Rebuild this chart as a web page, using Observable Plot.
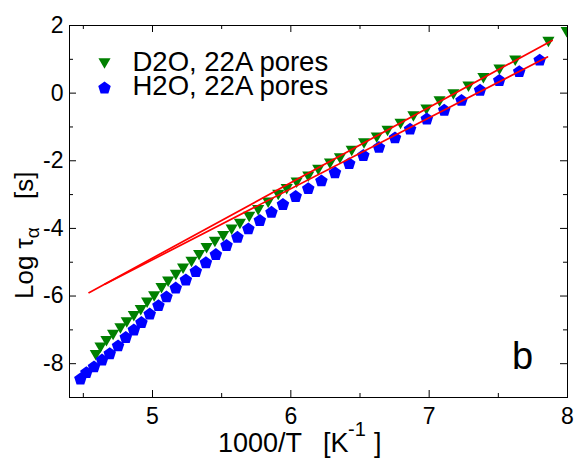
<!DOCTYPE html>
<html><head><meta charset="utf-8">
<script src="https://cdn.jsdelivr.net/npm/d3@7"></script>
<script src="https://cdn.jsdelivr.net/npm/@observablehq/plot@0.6"></script>
<style>body{margin:0;background:#fff} svg{display:block}</style>
</head><body><div id="chart"></div>
<script>
// D2O, 22A pores (green down-triangles)
const d2oX = [4.590,4.624,4.667,4.715,4.768,4.814,4.865,4.915,4.961,5.012,5.065,5.113,5.169,5.221,5.282,5.337,5.391,5.451,5.511,5.572,5.632,5.699,5.764,5.836,5.909,5.970,6.042,6.126,6.198,6.283,6.355,6.440,6.529,6.621,6.699,6.793,6.886,6.980,7.075,7.175,7.284,7.392,7.508,7.622,7.862,7.994];
const d2oY = [-7.75,-7.53,-7.34,-7.15,-6.96,-6.78,-6.60,-6.42,-6.20,-6.01,-5.77,-5.58,-5.38,-5.19,-4.99,-4.79,-4.59,-4.40,-4.23,-4.04,-3.87,-3.66,-3.46,-3.24,-3.01,-2.84,-2.65,-2.47,-2.27,-2.09,-1.93,-1.71,-1.49,-1.32,-1.12,-0.91,-0.69,-0.49,-0.25,-0.04,0.19,0.44,0.69,0.96,1.51,1.80];
// H2O, 22A pores (blue pentagons)
const h2oX = [4.479,4.522,4.577,4.635,4.691,4.751,4.807,4.865,4.920,4.980,5.043,5.101,5.168,5.241,5.313,5.386,5.458,5.535,5.614,5.693,5.776,5.860,5.943,6.035,6.126,6.221,6.319,6.422,6.524,6.637,6.753,6.862,6.983,7.109,7.234,7.368,7.507,7.651,7.799];
const h2oY = [-8.44,-8.25,-8.08,-7.88,-7.69,-7.46,-7.21,-6.99,-6.77,-6.52,-6.27,-6.01,-5.75,-5.51,-5.26,-5.00,-4.76,-4.49,-4.25,-4.00,-3.75,-3.51,-3.28,-3.04,-2.81,-2.58,-2.34,-2.07,-1.83,-1.59,-1.31,-1.05,-0.75,-0.49,-0.20,0.10,0.39,0.65,0.99];
// Arrhenius fit lines (red)
const fitD2OX = [4.541, 7.889];
const fitD2OY = [-5.90, 1.56];
const fitH2OX = [4.655, 7.855];
const fitH2OY = [-5.65, 1.07];
// axes
const xTicks = [5, 6, 7, 8];
const xMinor = [4.5, 5.5, 6.5, 7.5];
const yTicks = [-8, -6, -4, -2, 0, 2];
const yMinor = [-7, -5, -3, -1, 1];
const seriesNames = ["D2O, 22A pores", "H2O, 22A pores"];

const d2o = d2oX.map((x, i) => ({x, y: d2oY[i]}));
const h2o = h2oX.map((x, i) => ({x, y: h2oY[i]}));
const fitD2O = fitD2OX.map((x, i) => ({x, y: fitD2OY[i]}));
const fitH2O = fitH2OX.map((x, i) => ({x, y: fitH2OY[i]}));

const GREEN = "#008000", BLUE = "#0000ff", RED = "#ff0000";
const triDown = {draw(ctx, size) {
  const R = Math.sqrt(size / Math.PI), o = -0.25 * R;
  ctx.moveTo(-R * 0.866, -R * 0.5 + o); ctx.lineTo(R * 0.866, -R * 0.5 + o); ctx.lineTo(0, R + o); ctx.closePath();
}};
const pentagon = {draw(ctx, size) {
  const R = Math.sqrt(size / Math.PI);
  for (let k = 0; k < 5; k++) {
    const a = (-90 + 72 * k) * Math.PI / 180;
    const px = R * Math.cos(a), py = R * Math.sin(a) + 0.09 * R;
    k ? ctx.lineTo(px, py) : ctx.moveTo(px, py);
  }
  ctx.closePath();
}};

const W = 577, H = 461, mL = 69, mR = 10, mT = 25, mB = 64;
const pw = W - mL - mR, ph = H - mT - mB;
const fmt = d => String(d);
const FONT = "'Liberation Sans', Arial, sans-serif";

const chart = Plot.plot({
  width: W, height: H,
  marginLeft: mL, marginRight: mR, marginTop: mT, marginBottom: mB,
  style: {fontFamily: FONT, fontSize: "23px", background: "#fff", color: "black", overflow: "visible"},
  x: {domain: [4.4, 8], label: null},
  y: {domain: [-9, 2], label: null},
  marks: [
    Plot.dot(d2o, {x: "x", y: "y", symbol: triDown, r: 7, fill: GREEN, stroke: "none", clip: true}),
    Plot.dot(h2o, {x: "x", y: "y", symbol: pentagon, r: 6.6, fill: BLUE, stroke: "none", clip: true}),
    Plot.line(fitD2O, {x: "x", y: "y", stroke: RED, strokeWidth: 1.7}),
    Plot.line(fitH2O, {x: "x", y: "y", stroke: RED, strokeWidth: 1.7}),
    // inward ticks on all four sides
    Plot.tickX(xTicks, {x: d => d, insetTop: ph - 7, stroke: "black"}),
    Plot.tickX(xMinor, {x: d => d, insetTop: ph - 4, stroke: "black"}),
    Plot.tickX(xTicks, {x: d => d, insetBottom: ph - 7, stroke: "black"}),
    Plot.tickX(xMinor, {x: d => d, insetBottom: ph - 4, stroke: "black"}),
    Plot.tickY(yTicks, {y: d => d, insetRight: pw - 7, stroke: "black"}),
    Plot.tickY(yMinor, {y: d => d, insetRight: pw - 4, stroke: "black"}),
    Plot.tickY(yTicks, {y: d => d, insetLeft: pw - 7, stroke: "black"}),
    Plot.tickY(yMinor, {y: d => d, insetLeft: pw - 4, stroke: "black"}),
    Plot.axisX({anchor: "bottom", ticks: xTicks, tickSize: 0, tickPadding: 10, tickFormat: fmt, label: null, fontSize: 23}),
    Plot.axisY({anchor: "left", ticks: yTicks, tickSize: 0, tickPadding: 6, tickFormat: fmt, label: null, fontSize: 23}),
    Plot.frame({stroke: "black", strokeWidth: 1}),
    // legend
    Plot.dot([seriesNames[0]], {frameAnchor: "top-left", dx: 35, dy: 38, symbol: triDown, r: 7, fill: GREEN}),
    Plot.dot([seriesNames[1]], {frameAnchor: "top-left", dx: 35, dy: 62, symbol: pentagon, r: 6.6, fill: BLUE}),
    Plot.text([seriesNames[0]], {text: d => d, frameAnchor: "top-left", dx: 63, dy: 37, textAnchor: "start", lineAnchor: "middle", fontSize: 27.5, fill: "black"}),
    Plot.text([seriesNames[1]], {text: d => d, frameAnchor: "top-left", dx: 63, dy: 61, textAnchor: "start", lineAnchor: "middle", fontSize: 27.5, fill: "black"}),
    Plot.text(["b"], {text: d => d, frameAnchor: "bottom-right", dx: -45, dy: -41, textAnchor: "middle", lineAnchor: "middle", fontSize: 38, fill: "black"})
  ]
});
document.getElementById("chart").appendChild(chart);

const svg = d3.select(chart);
// x axis title
const xt = svg.append("text").attr("font-size", 27).attr("fill", "black")
  .attr("text-anchor", "start").attr("font-family", FONT);
xt.append("tspan").attr("x", 218).attr("y", 451.5).text("1000/T");
xt.append("tspan").attr("x", 323).attr("y", 451.5).text("[K");
xt.append("tspan").attr("x", 348).attr("y", 436).attr("font-size", 20).text("-1");
xt.append("tspan").attr("x", 374).attr("y", 451.5).text("]");
// y axis title
const yt = svg.append("text").attr("font-size", 26).attr("fill", "black")
  .attr("text-anchor", "start").attr("font-family", FONT)
  .attr("transform", "translate(33,299) rotate(-90)");
yt.append("tspan").attr("x", 0).attr("y", 0).text("Log \u03c4");
yt.append("tspan").attr("dy", 6).attr("font-size", 19).text("\u03b1");
yt.append("tspan").attr("x", 100).attr("y", 0).text("[s]");
</script>
</body></html>
